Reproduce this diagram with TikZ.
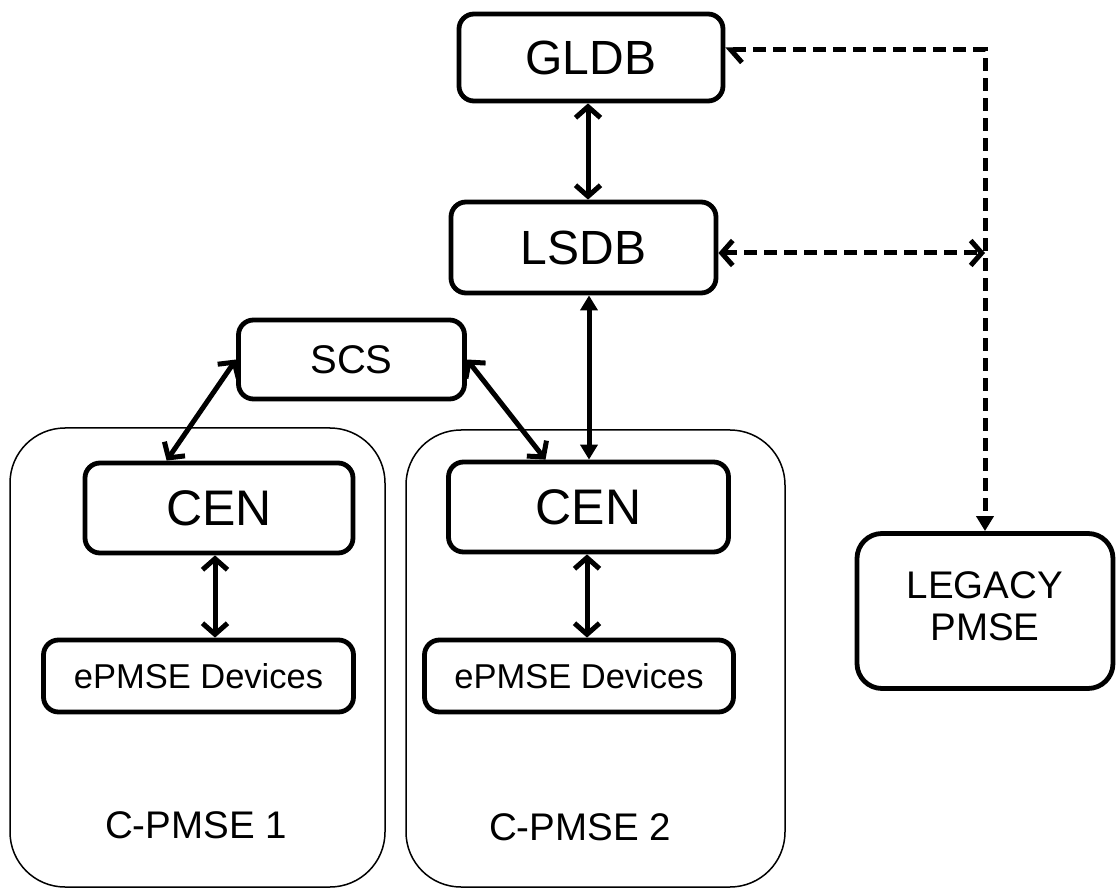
\documentclass[tikz,border=0pt]{standalone}
\usepackage{fontspec}
\setmainfont{Liberation Sans}
\usetikzlibrary{arrows.meta,calc}

\tikzset{
  block/.style={draw, line width=4.8pt, rounded corners=15pt, inner sep=0pt, align=center},
  group/.style={draw, line width=1.5pt, rounded corners=55pt},
  big/.style={font=\fontsize{48}{52}\selectfont},
  cen/.style={font=\fontsize{50}{54}\selectfont},
  mid/.style={font=\fontsize{40}{44}\selectfont},
  small/.style={font=\fontsize{34.5}{38}\selectfont},
  lbl/.style={font=\fontsize{38.5}{42}\selectfont},
  barb/.tip={Straight Barb[length=11pt,width=25pt,line width=5pt]},
  link/.style={line width=5pt, barb-barb},
  solidlink/.style={line width=5pt, {Triangle[length=15pt,width=17pt]}-{Triangle[length=15pt,width=17pt]}},
  dashlink/.style={line width=5pt, dash pattern=on 13pt off 7pt}
}

\begin{document}
\begin{tikzpicture}[x=1pt,y=-1pt]
  \useasboundingbox (0,0) rectangle (1117,890);

  % C-PMSE groups
  \draw[group] (10,428) rectangle (385,887);
  \draw[group] (406,430) rectangle (785,887);
  \node[lbl, anchor=base] (lab1) at (196,838) {C-PMSE 1};
  \node[lbl, anchor=base] (lab2) at (580,840) {C-PMSE 2};

  % database and controller blocks
  \node[block, big, minimum width=264pt, minimum height=87pt] (gldb) at (591,57.5) {GLDB};
  \node[block, big, minimum width=265pt, minimum height=91pt] (lsdb) at (583.5,247.5) {LSDB};
  \node[block, mid, minimum width=226pt, minimum height=79pt] (scs) at (351.5,359.5) {SCS};

  \node[block, cen, minimum width=268pt, minimum height=90pt] (cen1) at (219,508) {CEN};
  \node[block, cen, minimum width=280pt, minimum height=90pt] (cen2) at (588.5,507) {CEN};

  \node[block, small, minimum width=310pt, minimum height=72pt] (dev1) at (198.5,676) {ePMSE Devices};
  \node[block, small, minimum width=309pt, minimum height=72pt] (dev2) at (579,676) {ePMSE Devices};

  \node[block, lbl, rounded corners=25pt, minimum width=256pt, minimum height=155pt] (legacy) at (985,611)
    {\raisebox{12pt}{\setlength{\tabcolsep}{0pt}\begin{tabular}{c}LEGACY\\PMSE\end{tabular}}};

  % solid links
  \draw[link] ([xshift=-3pt]gldb.south) -- ([xshift=4.5pt]lsdb.north);
  \draw[solidlink] ([xshift=5.5pt]lsdb.south) -- ([xshift=0.5pt]cen2.north);
  \draw[link] (scs.west) -- ([xshift=84pt]cen1.north west);
  \draw[link] (scs.east) -- ([xshift=-43pt]cen2.north);
  \draw[link] ([xshift=-4pt]cen1.south) -- ([xshift=16.5pt]dev1.north);
  \draw[link] ([xshift=-1.5pt]cen2.south) -- ([xshift=8pt]dev2.north);

  % dashed links to the legacy system
  \coordinate (tap) at (lsdb.east -| legacy.north);
  \draw[dashlink, {Straight Barb[length=11pt,width=25pt,line width=5pt,left]}-{Triangle[length=15pt,width=17pt]}]
    ([yshift=7.5pt]gldb.east) -| (legacy.north);
  \draw[dashlink, barb-barb]
    ([yshift=-5.5pt]lsdb.east) -- ([yshift=-5.5pt]tap);
\end{tikzpicture}
\end{document}
